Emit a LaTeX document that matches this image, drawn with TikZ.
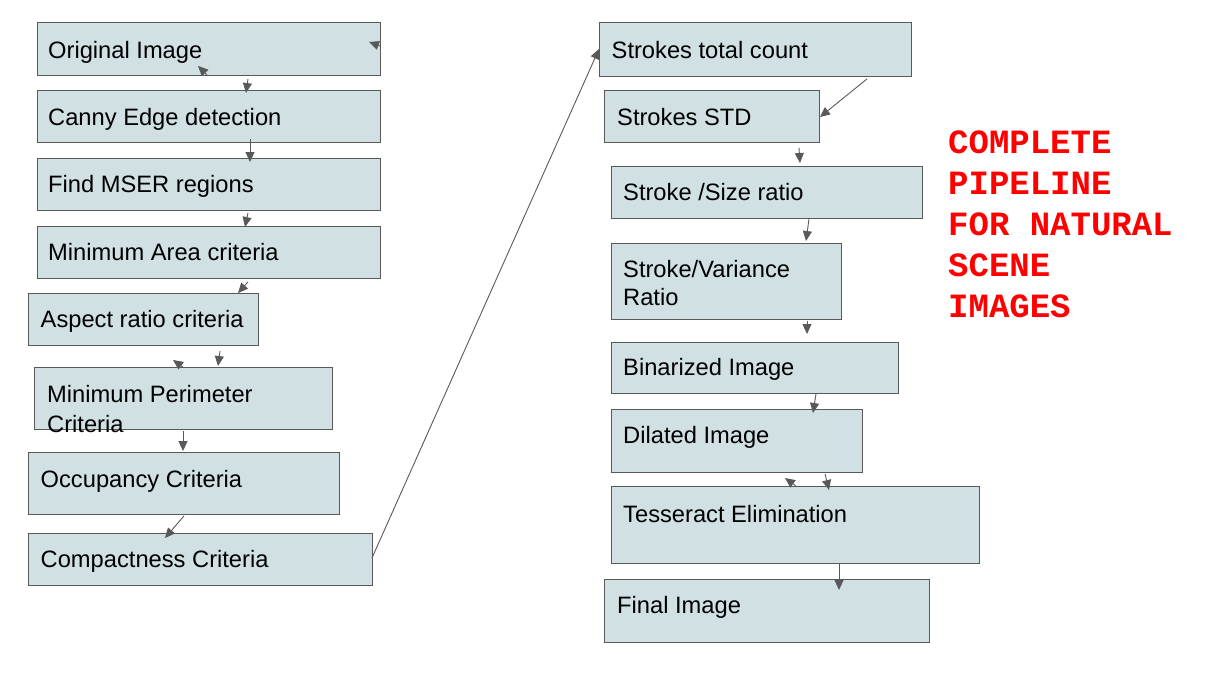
\documentclass[tikz,border=0pt]{standalone}
\usepackage{fontspec}
\setmainfont{Liberation Sans}
\newfontfamily\redmono{Liberation Mono}
\usetikzlibrary{arrows.meta}
\definecolor{boxfill}{HTML}{D0E0E3}
\definecolor{boxline}{HTML}{595959}
\definecolor{arrcol}{HTML}{595959}
\tikzset{
  stepbox/.style={draw=boxline, fill=boxfill, line width=0.9pt, inner sep=0pt, anchor=north west},
  txt/.style={anchor=base west, inner sep=0pt, font=\fontsize{23.7}{29}\selectfont},
  redtxt/.style={anchor=base west, inner sep=0pt, text=red, font=\redmono\bfseries\fontsize{34}{41}\selectfont},
  arr/.style={draw=arrcol, line width=0.9pt, -{Triangle[length=10pt,width=9pt]}},
}
\begin{document}
\begin{tikzpicture}[x=1pt,y=-1pt]
\useasboundingbox (0,0) rectangle (1220,681);
% left column boxes
\node[stepbox, minimum width=343pt, minimum height=53pt] (n1) at (37,22) {};
\node[stepbox, minimum width=343pt, minimum height=52pt] (n2) at (37,90) {};
\node[stepbox, minimum width=343pt, minimum height=52pt] (n3) at (37,158) {};
\node[stepbox, minimum width=343pt, minimum height=52pt] (n4) at (37,226) {};
\node[stepbox, minimum width=230pt, minimum height=52pt] (n5) at (28,293) {};
\node[stepbox, minimum width=298pt, minimum height=62pt] (n6) at (34,367) {};
\node[stepbox, minimum width=311pt, minimum height=62pt] (n7) at (28,452) {};
\node[stepbox, minimum width=344pt, minimum height=52pt] (n8) at (28,533) {};
% right column boxes
\node[stepbox, minimum width=312pt, minimum height=54pt] (m1) at (599,22) {};
\node[stepbox, minimum width=215pt, minimum height=52pt] (m2) at (604,90) {};
\node[stepbox, minimum width=311pt, minimum height=52pt] (m3) at (611,166) {};
\node[stepbox, minimum width=230pt, minimum height=76pt] (m4) at (611,243) {};
\node[stepbox, minimum width=287pt, minimum height=51pt] (m5) at (611,342) {};
\node[stepbox, minimum width=251pt, minimum height=63pt] (m6) at (611,409) {};
\node[stepbox, minimum width=368pt, minimum height=77pt] (m7) at (611,486) {};
\node[stepbox, minimum width=325pt, minimum height=63pt] (m8) at (604,579) {};
% texts
\node[txt] (t1) at (48,58) {Original Image};
\node[txt] (t2) at (48,125) {Canny Edge detection};
\node[txt] (t3) at (48,192) {Find MSER regions};
\node[txt] (t4) at (48,260) {Minimum Area criteria};
\node[txt] (t5) at (40.5,327) {Aspect ratio criteria};
\node[txt] (t6a) at (47,402) {Minimum Perimeter};
\node[txt] (t6b) at (47,432) {Criteria};
\node[txt] (t7) at (40.5,487) {Occupancy Criteria};
\node[txt] (t8) at (40.5,567) {Compactness Criteria};
\node[txt] (u1) at (611.5,58) {Strokes total count};
\node[txt] (u2) at (617,125) {Strokes STD};
\node[txt] (u3) at (623,200) {Stroke /Size ratio};
\node[txt] (u4a) at (623,277) {Stroke/Variance};
\node[txt] (u4b) at (623,305.5) {Ratio};
\node[txt] (u5) at (623,375) {Binarized Image};
\node[txt] (u6) at (623,443) {Dilated Image};
\node[txt] (u7) at (623,522) {Tesseract Elimination};
\node[txt] (u8) at (617,613) {Final Image};
% red title
\node[redtxt] (r1) at (948,153) {COMPLETE};
\node[redtxt] (r2) at (948,194) {PIPELINE};
\node[redtxt] (r3) at (948,235) {FOR NATURAL};
\node[redtxt] (r4) at (948,276) {SCENE};
\node[redtxt] (r5) at (948,317) {IMAGES};
% connectors
\draw[arr] ([shift={(211,3)}]n1.south west) -- ([shift={(209,3)}]n2.north west);
\draw[arr] ([shift={(213,-4)}]n2.south west) -- ([shift={(213,4)}]n3.north west);
\draw[arr] ([shift={(211,2)}]n3.south west) -- ([shift={(208,1)}]n4.north west);
\draw[arr] ([shift={(211,3)}]n4.south west) -- ([shift={(210,0)}]n5.north west);
\draw[arr] ([shift={(192,5)}]n5.south west) -- ([shift={(184,-1)}]n6.north west);
\draw[arr] ([shift={(149,1)}]n6.south west) -- ([shift={(155,-1)}]n7.north west);
\draw[arr] ([shift={(156,1)}]n7.south west) -- ([shift={(137,5)}]n8.north west);
\draw[arr] ([shift={(344,-28)}]n8.south west) -- ([shift={(0,27)}]m1.north west);
\draw[arr] ([shift={(268,2)}]m1.south west) -- ([shift={(216,27)}]m2.north west);
\draw[arr] ([shift={(195,5)}]m2.south west) -- ([shift={(189,-3)}]m3.north west);
\draw[arr] ([shift={(198,0)}]m3.south west) -- ([shift={(195,-2)}]m4.north west);
\draw[arr] ([shift={(196,1)}]m4.south west) -- ([shift={(196,-8)}]m5.north west);
\draw[arr] ([shift={(205,0)}]m5.south west) -- ([shift={(202,4)}]m6.north west);
\draw[arr] ([shift={(214,1)}]m6.south west) -- ([shift={(218,4)}]m7.north west);
\draw[arr] ([shift={(228,0)}]m7.south west) -- ([shift={(235,11)}]m8.north west);
% stray arrowheads
\draw[arr] ([shift={(343,24)}]n1.north west) -- ([shift={(332,20)}]n1.north west);
\draw[arr] ([shift={(170,-1)}]n1.south west) -- ([shift={(161,-10)}]n1.south west);
\draw[arr] ([shift={(149,0)}]n6.north west) -- ([shift={(139,-7)}]n6.north west);
\draw[arr] ([shift={(185,0)}]m7.north west) -- ([shift={(174,-8)}]m7.north west);
\end{tikzpicture}
\end{document}
